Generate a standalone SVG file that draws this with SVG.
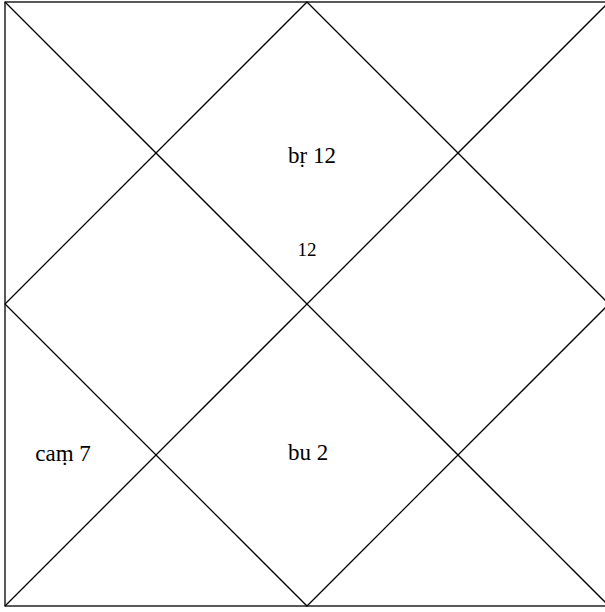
<svg xmlns="http://www.w3.org/2000/svg" width="605" height="612" viewBox="0 0 605 612">
<style>
.l{stroke:#000;stroke-width:1.3;fill:none}
.t{font-family:"Liberation Serif","DejaVu Serif",serif;font-size:23px;fill:#000;text-anchor:middle}
.s{font-size:19px}
</style>
<rect width="605" height="612" fill="#fff"/>
<g id="connectors">
<rect class="l" x="5" y="2" width="604" height="604"/>
<line class="l" x1="5" y1="2" x2="609" y2="606"/>
<line class="l" x1="609" y1="2" x2="5" y2="606"/>
<polygon class="l" points="307,2 609,304 307,606 5,304"/>
</g>
<g id="house1"><text class="t" x="312" y="163">bṛ 12</text><text class="t s" x="307" y="256">12</text></g>
<g id="house7"><text class="t" x="308" y="460">bu 2</text></g>
<g id="house5"><text class="t" x="63" y="461">caṃ 7</text></g>
</svg>
